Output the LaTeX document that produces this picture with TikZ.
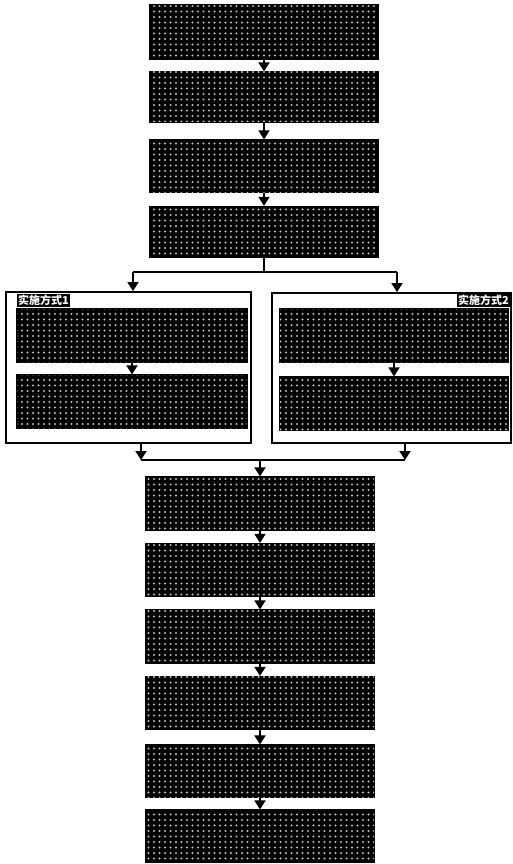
\documentclass[tikz,border=0pt]{standalone}
\usepackage{fontspec}
\newfontfamily\cjk{Noto Sans CJK SC}
\usetikzlibrary{arrows.meta,patterns.meta}
\begin{document}
\begin{tikzpicture}[x=1pt,y=-1pt,
  darkbox/.style={draw=black, line width=1.2pt, fill=black, rectangle, inner sep=0pt,
    postaction={pattern={Dots[distance=5.5pt, radius=1.1pt]}, pattern color=white!75!black}},
  frame/.style={draw=black, line width=1.8pt, rectangle, inner sep=0pt},
  tag/.style={fill=black, text=white, inner sep=1pt, font=\cjk\bfseries\fontsize{11}{12}\selectfont},
  arr/.style={line width=1.8pt, -{Triangle[length=9pt,width=11pt]}},
  ln/.style={line width=1.8pt}]
\useasboundingbox (0,0) rectangle (513,864);
% upper chain
\node[darkbox, minimum width=228pt, minimum height=54pt] (b1) at (264,32) {};
\node[darkbox, minimum width=228pt, minimum height=50pt] (b2) at (264,97) {};
\node[darkbox, minimum width=228pt, minimum height=52pt] (b3) at (264,166) {};
\node[darkbox, minimum width=228pt, minimum height=51pt] (b4) at (264,232) {};
\draw[arr] (b1) -- (b2);
\draw[arr] (b2) -- (b3);
\draw[arr] (b3) -- (b4);
% containers
\node[frame, minimum width=245pt, minimum height=151pt] (cL) at (128.5,367.5) {};
\node[frame, minimum width=239pt, minimum height=150pt] (cR) at (391.5,368) {};
\node[darkbox, minimum width=230pt, minimum height=53pt] (l1) at (132,335.5) {};
\node[darkbox, minimum width=230pt, minimum height=53pt] (l2) at (132,401.5) {};
\node[darkbox, minimum width=228pt, minimum height=53pt] (r1) at (394,335.5) {};
\node[darkbox, minimum width=228pt, minimum height=53pt] (r2) at (394,403.5) {};
\node[tag, anchor=north west] (tL) at (17,294) {实施方式1};
\node[tag, anchor=north east] (tR) at (510,294) {实施方式2};
\draw[arr] (l1) -- (l2);
\draw[arr] (r1) -- (r2);
% split
\coordinate (sp) at (264,272);
\coordinate (spL) at (133,272);
\coordinate (spR) at (397,272);
\draw[ln] (b4.south) -- (sp);
\draw[ln] (spL) -- (spR);
\draw[arr] (spL) -- (spL |- cL.north);
\draw[arr] (spR) -- (spR |- cR.north);
% merge
\coordinate (mL) at (141,460);
\coordinate (mR) at (405,460);
\coordinate (m) at (260,460);
\draw[arr] (mL |- cL.south) -- (mL);
\draw[arr] (mR |- cR.south) -- (mR);
\draw[ln] (mL) -- (mR);
% lower chain
\node[darkbox, minimum width=228pt, minimum height=53pt] (b5) at (260,503.5) {};
\node[darkbox, minimum width=228pt, minimum height=53pt] (b6) at (260,570) {};
\node[darkbox, minimum width=228pt, minimum height=53pt] (b7) at (260,636.5) {};
\node[darkbox, minimum width=228pt, minimum height=53pt] (b8) at (260,703) {};
\node[darkbox, minimum width=228pt, minimum height=52pt] (b9) at (260,771) {};
\node[darkbox, minimum width=228pt, minimum height=52pt] (b10) at (260,836) {};
\draw[arr] (m) -- (b5.north);
\draw[arr] (b5) -- (b6);
\draw[arr] (b6) -- (b7);
\draw[arr] (b7) -- (b8);
\draw[arr] (b8) -- (b9);
\draw[arr] (b9) -- (b10);
\end{tikzpicture}
\end{document}
